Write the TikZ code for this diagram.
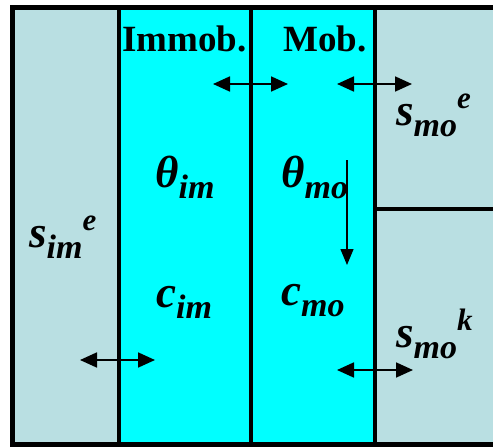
\documentclass[tikz,border=0pt]{standalone}
\usepackage{fontspec}
\setmainfont{Liberation Serif}
\usetikzlibrary{arrows.meta, positioning}
\definecolor{PoreGray}{HTML}{B9DFE2}
\definecolor{PoreCyan}{HTML}{00FFFF}
\newcommand{\fieldvar}[3]{%
  {\fontsize{45}{45}\selectfont\bfseries\itshape #1}%
  \raisebox{-11pt}{\fontsize{34}{34}\selectfont\bfseries\itshape #2}%
  \raisebox{17pt}{\fontsize{31}{31}\selectfont\bfseries\itshape #3}}

\begin{document}
\begin{tikzpicture}[x=1pt, y=-1pt,
          wall/.style={draw=black, line width=4pt},
          head/.style={anchor=base west, inner sep=0pt,
                       font=\fontsize{37}{37}\selectfont\bfseries},
          var/.style={anchor=base west, inner sep=0pt},
          xarr/.style={{Triangle[length=17pt,width=15pt]}-{Triangle[length=17pt,width=15pt]},
                       line width=1.8pt},
          flow/.style={-{Triangle[length=16pt,width=13pt]}, line width=1.3pt}
        ]
          \clip (0,0) rectangle (493,447);
          % regions
          \fill[PoreGray] (12.5,7.5) rectangle (500,444.5);
          \fill[PoreCyan] (119,7.5) rectangle (374.5,444.5);
          \draw[wall] (119,7.5) -- (119,444.5);
          \draw[wall] (250.5,7.5) -- (250.5,444.5);
          \draw[wall] (374.5,7.5) -- (374.5,444.5);
          \draw[wall] (374.5,208.5) -- (500,208.5);
          \draw[line width=5pt] (12.5,7.5) rectangle (500,444.5);
          % labels
          \node[head] (immob) at (122,51) {Immob.};
          \node[head] (mob) at (283,51) {Mob.};
          \node[var] (sime) at (29,247) {\fieldvar{s}{im}{e}};
          \node[var] (thim) at (155,187) {\fieldvar{θ}{im}{}};
          \node[var] (cim) at (156,307) {\fieldvar{c}{im}{}};
          \node[var] (thmo) at (281,187) {\fieldvar{θ}{mo}{}};
          \node[var] (cmo) at (281,305) {\fieldvar{c}{mo}{}};
          \node[var] (smoe) at (396,125) {\fieldvar{s}{mo}{e}};
          \node[var] (smok) at (396,347) {\fieldvar{s}{mo}{k}};
          % exchange arrows
          \coordinate (ximl) at (213,84);  \coordinate (ximr) at (288,84);
          \coordinate (xmel) at (337,84);  \coordinate (xmer) at (412,84);
          \coordinate (xsil) at (80,360);  \coordinate (xsir) at (155,360);
          \coordinate (xmkl) at (337,370); \coordinate (xmkr) at (413,370);
          \coordinate (ftop) at (347,160); \coordinate (fbot) at (347,265);
          \draw[xarr] (ximl) -- (ximr); \draw[xarr] (xmel) -- (xmer);
          \draw[xarr] (xsil) -- (xsir); \draw[xarr] (xmkl) -- (xmkr);
          \draw[flow] (ftop) -- (fbot);
        \end{tikzpicture}
\end{document}
